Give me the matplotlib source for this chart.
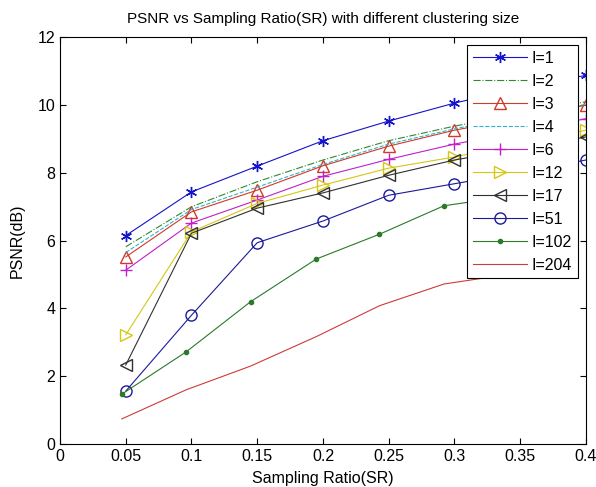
import numpy as np
import matplotlib
matplotlib.use("Agg")
import matplotlib.pyplot as plt

plt.rcParams['font.family'] = ['Liberation Sans Narrow', 'Liberation Sans', 'DejaVu Sans']

# sampling ratios used by most runs
sr = [0.05, 0.1, 0.15, 0.2, 0.25, 0.3, 0.35, 0.4]
# the I=102 / I=204 runs were sampled at slightly different ratios
sr_b = [0.047, 0.096, 0.145, 0.195, 0.243, 0.292, 0.34, 0.39]

psnr_1 = [6.15, 7.44, 8.2, 8.95, 9.53, 10.06, 10.5, 10.88]
psnr_2 = [5.82, 7.0, 7.74, 8.38, 8.95, 9.38, 9.75, 10.1]
psnr_3 = [5.52, 6.85, 7.49, 8.21, 8.79, 9.26, 9.62, 10.0]
psnr_4 = [5.65, 6.92, 7.58, 8.25, 8.85, 9.3, 9.68, 10.02]
psnr_6 = [5.13, 6.52, 7.2, 7.9, 8.4, 8.85, 9.22, 9.6]
psnr_12 = [3.22, 6.26, 7.1, 7.64, 8.14, 8.47, 8.88, 9.26]
psnr_17 = [2.33, 6.22, 6.96, 7.41, 7.93, 8.38, 8.72, 9.06]
psnr_51 = [1.56, 3.8, 5.94, 6.58, 7.34, 7.68, 8.02, 8.38]
psnr_102 = [1.47, 2.72, 4.2, 5.46, 6.19, 7.03, 7.3, 7.6]
psnr_204 = [0.74, 1.6, 2.3, 3.17, 4.08, 4.72, 5.0, 5.3]

fig = plt.figure(figsize=(5.96, 4.87), dpi=100)
ax = fig.add_axes([0.1007, 0.0883, 0.8823, 0.8350])

asterisk = (6, 2, 0)
ax.plot(sr, psnr_1, '-', color='#1414c8', marker=asterisk, ms=8, mew=1.0, lw=0.8, label='I=1')
ax.plot(sr, psnr_2, '-.', color='#2e8b2e', lw=0.8, label='I=2')
ax.plot(sr, psnr_3, '-', color='#d03a2a', marker='^', ms=8, mfc='none', lw=0.8, label='I=3')
ax.plot(sr, psnr_4, '--', color='#30b4c8', lw=0.8, label='I=4')
ax.plot(sr, psnr_6, '-', color='#c020c8', marker='+', ms=9, lw=0.8, label='I=6')
ax.plot(sr, psnr_12, '-', color='#d4c814', marker='>', ms=8, mfc='none', lw=0.8, label='I=12')
ax.plot(sr, psnr_17, '-', color='#303030', marker='<', ms=8, mfc='none', lw=0.8, label='I=17')
ax.plot(sr, psnr_51, '-', color='#1a1a9a', marker='o', ms=8, mfc='none', lw=0.8, label='I=51')
ax.plot(sr_b, psnr_102, '-', color='#2a7a2a', marker='.', ms=6, lw=0.8, label='I=102')
ax.plot(sr_b, psnr_204, '-', color='#d03a3a', lw=0.8, label='I=204')

ax.set_xlim(0, 0.4)
ax.set_ylim(0, 12)
ax.set_xticks(np.arange(0, 0.401, 0.05))
ax.set_xticklabels(['0', '0.05', '0.1', '0.15', '0.2', '0.25', '0.3', '0.35', '0.4'])
ax.set_yticks(range(0, 13, 2))
ax.tick_params(direction='in', top=True, right=True, labelsize=11.5, length=4)

ax.set_xlabel('Sampling Ratio(SR)', fontsize=11.5, labelpad=5)
ax.set_ylabel('PSNR(dB)', fontsize=11.5, labelpad=9)
ax.set_title('PSNR vs Sampling Ratio(SR) with different clustering size', fontsize=11, pad=10)

leg = ax.legend(loc='upper right', fontsize=11.5, handlelength=3.4, labelspacing=0.5,
                borderaxespad=0.5, fancybox=False, framealpha=1, edgecolor='black',
                handletextpad=0.3, borderpad=0.35)
leg.get_frame().set_linewidth(0.8)

fig.savefig('out.png', dpi=100)
